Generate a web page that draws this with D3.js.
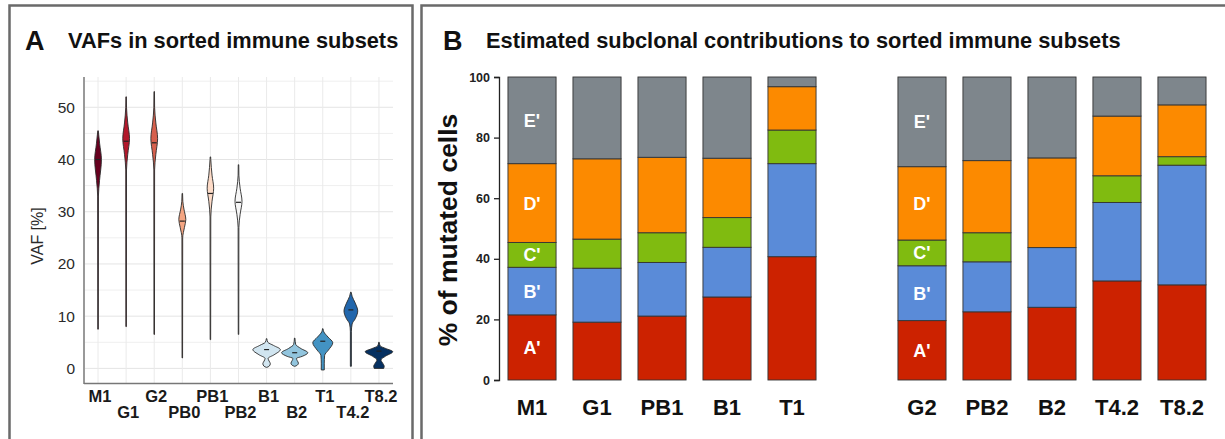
<!DOCTYPE html>
<html>
<head>
<meta charset="utf-8">
<script src="https://cdn.jsdelivr.net/npm/d3@7"></script>
<style>
  body { margin: 0; background: #fff; }
  svg { display: block; font-family: "Liberation Sans", Arial, sans-serif; }
</style>
</head>
<body>
<div id="chart"></div>
<script>
// ---- Panel A data: VAF violins ----
var vafCats = ["M1", "G1", "G2", "PB0", "PB1", "PB2", "B1", "B2", "T1", "T4.2", "T8.2"];
var vafColors = ["#67001f", "#b2182b", "#d6604d", "#f4a582", "#fddbc7", "#f7f7f7",
                 "#d1e5f0", "#92c5de", "#4393c3", "#2166ac", "#053061"];
var vafMedians = [40, 43.5, 43.2, 28.2, 33.5, 31.8, 3.6, 3.0, 5.2, 11.2, 3.3];
// violin outlines: [VAF, relative density]
var vafShapes = [
  [[7.5,0.02],[33,0.03],[36,0.12],[40,0.27],[43,0.13],[45.5,0.02]],
  [[8,0.02],[38,0.03],[41,0.13],[44,0.27],[47,0.13],[50,0.03],[52,0.02]],
  [[6.5,0.02],[38,0.03],[41,0.13],[44,0.27],[47,0.13],[50,0.03],[53,0.02]],
  [[2,0.02],[25,0.03],[27,0.17],[28.5,0.28],[30.5,0.13],[32,0.04],[33.5,0.02]],
  [[5.5,0.02],[29,0.03],[32,0.13],[34.5,0.26],[37,0.13],[40,0.03],[40.5,0.02]],
  [[6.5,0.02],[27,0.03],[29.5,0.13],[32,0.28],[34.5,0.13],[37,0.03],[39,0.02]],
  [[0.2,0.02],[0.4,0.2],[0.9,0.3],[1.4,0.2],[1.9,0.12],[2.6,0.6],[3.6,1.1],[4.4,0.55],[5,0.1],[5.7,0.02]],
  [[0.4,0.02],[0.6,0.2],[1.0,0.3],[1.5,0.2],[1.9,0.14],[2.3,0.6],[3.0,1.05],[3.8,0.5],[4.6,0.08],[5.8,0.02]],
  [[-0.3,0.12],[1,0.12],[2.5,0.15],[3.5,0.45],[4.9,0.8],[6,0.42],[7,0.08],[7.6,0.02]],
  [[0.4,0.04],[7,0.04],[8.5,0.1],[9.5,0.35],[11,0.55],[12.5,0.35],[13.8,0.1],[14.6,0.02]],
  [[0,0.38],[0.4,0.42],[1,0.3],[1.6,0.16],[2.3,0.5],[3.2,1.1],[3.8,0.55],[4.3,0.1],[5,0.02]]
];
var vafTicks = [0, 10, 20, 30, 40, 50];

// ---- Panel B data: stacked subclonal contributions ----
var barCats = ["M1", "G1", "PB1", "B1", "T1", "", "G2", "PB2", "B2", "T4.2", "T8.2"];
var clones = ["A'", "B'", "C'", "D'", "E'"];
var cloneColors = ["#cc2200", "#5a8bd8", "#80bb10", "#fc8a00", "#7e868c"];
var cloneA = [21.5, 19.1, 21.1, 27.4, 40.7, 0, 19.6, 22.5, 24.0, 32.7, 31.4];
var cloneB = [15.7, 17.8, 17.7, 16.4, 30.7, 0, 18.1, 16.5, 19.7, 25.9, 39.5];
var cloneC = [8.2, 9.6, 9.8, 9.8, 11.1, 0, 8.5, 9.6, 0, 8.8, 2.8];
var cloneD = [26.0, 26.5, 24.9, 19.6, 14.3, 0, 24.2, 23.8, 29.6, 19.7, 17.1];
var cloneE = [28.6, 27.0, 26.5, 26.8, 3.2, 0, 29.6, 27.6, 26.7, 12.9, 9.2];
var labelledBars = ["M1", "G2"];
var pctTicks = [0, 20, 40, 60, 80, 100];

var svg = d3.select("#chart").append("svg")
  .attr("width", 1225)
  .attr("height", 439);

// frames
svg.append("rect").attr("x", 9.5).attr("y", 5.5).attr("width", 403).attr("height", 450)
  .attr("fill", "none").attr("stroke", "#6a6a6a").attr("stroke-width", 2.5);
svg.append("rect").attr("x", 421.5).attr("y", 5.5).attr("width", 820).attr("height", 450)
  .attr("fill", "none").attr("stroke", "#6a6a6a").attr("stroke-width", 2.5);

// ================= Panel A =================
var gA = svg.append("g");
gA.append("text").attr("x", 25).attr("y", 50).attr("font-size", 27).attr("font-weight", "bold")
  .attr("fill", "#111").text("A");
gA.append("text").attr("x", 68).attr("y", 48).attr("font-size", 21.8).attr("font-weight", "bold")
  .attr("fill", "#111").text("VAFs in sorted immune subsets");

var xA = d3.scaleBand().domain(vafCats).range([84, 393]);
var yA = d3.scaleLinear().domain([-2.8, 55.8]).range([383, 77]);
var wA = d3.scaleLinear().domain([0, 1]).range([0, 12.5]);

// grid
var minor = d3.range(0, 56, 5);
gA.selectAll("line.hgrid").data(minor).enter().append("line")
  .attr("x1", 85).attr("x2", 393)
  .attr("y1", d => yA(d)).attr("y2", d => yA(d))
  .attr("stroke", d => d % 10 === 0 ? "#e4e4e4" : "#efefef").attr("stroke-width", 1);
gA.selectAll("line.vgrid").data(vafCats).enter().append("line")
  .attr("x1", d => xA(d) + xA.bandwidth() / 2).attr("x2", d => xA(d) + xA.bandwidth() / 2)
  .attr("y1", 77).attr("y2", 383)
  .attr("stroke", "#eaeaea").attr("stroke-width", 1);

// axes lines
gA.append("line").attr("x1", 84).attr("x2", 84).attr("y1", 77).attr("y2", 384)
  .attr("stroke", "#777").attr("stroke-width", 1.5);
gA.append("line").attr("x1", 84).attr("x2", 393).attr("y1", 383.5).attr("y2", 383.5)
  .attr("stroke", "#777").attr("stroke-width", 1.5);

// y tick labels
gA.selectAll("text.ytick").data(vafTicks).enter().append("text")
  .attr("x", 75).attr("y", d => yA(d) + 5.5)
  .attr("text-anchor", "end").attr("font-size", 15.5).attr("fill", "#2a2a2a")
  .text(d => d);
gA.append("text")
  .attr("transform", "translate(43, 236) rotate(-90)")
  .attr("text-anchor", "middle").attr("font-size", 16).attr("fill", "#2a2a2a")
  .text("VAF [%]");

// x labels, staggered in two rows
gA.selectAll("text.xlab").data(vafCats).enter().append("text")
  .attr("x", d => xA(d) + xA.bandwidth() / 2 + 2)
  .attr("y", (d, i) => i % 2 === 0 ? 402 : 418)
  .attr("text-anchor", "middle").attr("font-size", 16.5).attr("font-weight", "bold")
  .attr("fill", "#1a1a1a")
  .text(d => d);

// violins
var violin = function(cx) {
  return d3.area()
    .y(d => yA(d[0]))
    .x0(d => cx - wA(d[1]))
    .x1(d => cx + wA(d[1]))
    .curve(d3.curveMonotoneY);
};
vafCats.forEach(function(c, i) {
  var cx = xA(c) + xA.bandwidth() / 2;
  gA.append("path")
    .attr("d", violin(cx)(vafShapes[i]))
    .attr("fill", vafColors[i])
    .attr("stroke", "#2a2a2a").attr("stroke-width", 0.9);
  gA.append("line")
    .attr("x1", cx - 2.5).attr("x2", cx + 2.5)
    .attr("y1", yA(vafMedians[i])).attr("y2", yA(vafMedians[i]))
    .attr("stroke", "#222").attr("stroke-width", 1.2);
});

// ================= Panel B =================
var gB = svg.append("g");
gB.append("text").attr("x", 443).attr("y", 50).attr("font-size", 27).attr("font-weight", "bold")
  .attr("fill", "#111").text("B");
gB.append("text").attr("x", 486).attr("y", 48).attr("font-size", 21.8).attr("font-weight", "bold")
  .attr("fill", "#111").text("Estimated subclonal contributions to sorted immune subsets");

var xB = d3.scaleBand().domain(barCats).range([499, 1215])
  .paddingInner(0.26).paddingOuter(0.138);
var yB = d3.scaleLinear().domain([0, 100]).range([380, 77]);

var yAxisB = d3.axisLeft(yB).tickValues(pctTicks).tickSize(5).tickPadding(4);
var yAxG = gB.append("g").attr("transform", "translate(499,0)").call(yAxisB);
yAxG.select(".domain").attr("stroke", "#222").attr("stroke-width", 1.3);
yAxG.selectAll(".tick line").attr("stroke", "#222").attr("stroke-width", 1.3);
yAxG.selectAll(".tick text").attr("font-size", 12.5).attr("font-weight", "bold")
  .attr("font-family", "'Liberation Sans Narrow', 'Liberation Sans', Arial, sans-serif")
  .attr("fill", "#222");

gB.append("text")
  .attr("transform", "translate(457, 230) rotate(-90)")
  .attr("text-anchor", "middle").attr("font-size", 26.5).attr("font-weight", "bold")
  .attr("fill", "#111").text("% of mutated cells");

var table = barCats.map(function(c, i) {
  return { cat: c, "A'": cloneA[i], "B'": cloneB[i], "C'": cloneC[i], "D'": cloneD[i], "E'": cloneE[i] };
}).filter(d => d.cat !== "");

var stack = d3.stack().keys(clones)(table);

stack.forEach(function(layer, k) {
  gB.selectAll("rect.s" + k).data(layer).enter().append("rect")
    .attr("x", d => xB(d.data.cat))
    .attr("width", xB.bandwidth())
    .attr("y", d => yB(d[1]))
    .attr("height", d => yB(d[0]) - yB(d[1]))
    .attr("fill", cloneColors[k])
    .attr("stroke", "#333").attr("stroke-width", 0.9);
  gB.selectAll("text.l" + k).data(layer.filter(d => labelledBars.indexOf(d.data.cat) >= 0)).enter()
    .append("text")
    .attr("x", d => xB(d.data.cat) + xB.bandwidth() / 2)
    .attr("y", d => yB((d[0] + d[1]) / 2) + 6.5)
    .attr("text-anchor", "middle").attr("font-size", 18).attr("font-weight", "bold")
    .attr("fill", "#fff").text(clones[k]);
});

gB.selectAll("text.xlabB").data(table).enter().append("text")
  .attr("x", d => xB(d.cat) + xB.bandwidth() / 2)
  .attr("y", 415)
  .attr("text-anchor", "middle").attr("font-size", 22).attr("font-weight", "bold")
  .attr("fill", "#111").text(d => d.cat);
</script>
</body>
</html>
